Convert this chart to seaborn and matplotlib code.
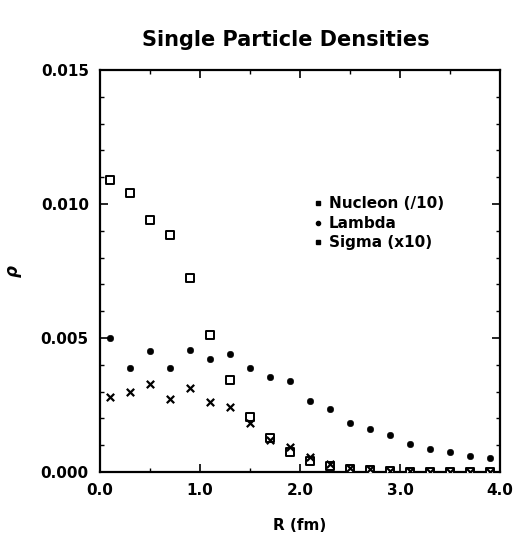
import numpy as np
import pandas as pd
import matplotlib
matplotlib.use("Agg")
import matplotlib.pyplot as plt
import seaborn as sns
from matplotlib.lines import Line2D
from matplotlib.ticker import MultipleLocator, FormatStrFormatter

r = [0.1, 0.3, 0.5, 0.7, 0.9, 1.1, 1.3, 1.5, 1.7, 1.9,
     2.1, 2.3, 2.5, 2.7, 2.9, 3.1, 3.3, 3.5, 3.7, 3.9]
nucleon = [0.0109, 0.0104, 0.0094, 0.00885, 0.00725, 0.00513, 0.00342, 0.00205, 0.00126, 0.00074,
           0.00040, 0.00022, 0.00012, 0.00007, 0.00004, 0.00002, 0.00002, 0.00001, 0.00001, 0.00001]
lam = [0.0050, 0.0039, 0.0045, 0.0039, 0.00455, 0.0042, 0.0044, 0.00387, 0.00355, 0.0034,
       0.00265, 0.00235, 0.00183, 0.0016, 0.00138, 0.00104, 0.00086, 0.00076, 0.0006, 0.00052]
sigma = [0.0028, 0.00297, 0.0033, 0.00272, 0.00312, 0.0026, 0.00242, 0.00182, 0.0012, 0.00095,
         0.00055, 0.0003, 0.00015, 0.0001, 0.00005, 0.00003, 0.00002, 0.00001, 0.00001, 0.00001]
labels = ["Nucleon (/10)", "Lambda", "Sigma (x10)"]

df = pd.DataFrame({"R": r, "nucleon": nucleon, "lambda": lam, "sigma": sigma})

sns.set_style("ticks")
plt.rcParams["font.family"] = ["DejaVu Sans"]
plt.rcParams["font.weight"] = "bold"
plt.rcParams["text.color"] = "black"
plt.rcParams["axes.labelcolor"] = "black"
plt.rcParams["xtick.color"] = "black"
plt.rcParams["ytick.color"] = "black"
plt.rcParams["axes.edgecolor"] = "black"

fig = plt.figure(figsize=(5.15, 5.42), dpi=100)
ax = fig.add_axes([0.194, 0.129, 0.777, 0.742])

sns.scatterplot(data=df, x="R", y="nucleon", ax=ax, marker="s", s=40,
                facecolor="white", edgecolor="black", linewidth=1.4, zorder=3)
sns.scatterplot(data=df, x="R", y="lambda", ax=ax, marker="o", s=22,
                color="black", edgecolor="black", zorder=4)
sns.scatterplot(data=df, x="R", y="sigma", ax=ax, marker="x", s=28,
                color="black", linewidth=1.6, zorder=5)

ax.set_xlim(0, 4.0)
ax.set_ylim(0, 0.015)
ax.xaxis.set_major_locator(MultipleLocator(1.0))
ax.xaxis.set_minor_locator(MultipleLocator(0.5))
ax.yaxis.set_major_locator(MultipleLocator(0.005))
ax.yaxis.set_minor_locator(MultipleLocator(0.001))
ax.xaxis.set_major_formatter(FormatStrFormatter("%.1f"))
ax.yaxis.set_major_formatter(FormatStrFormatter("%.3f"))
ax.tick_params(which="both", direction="in", top=True, right=True, labelsize=11, pad=8)
ax.tick_params(which="major", length=6, width=1.2)
ax.tick_params(which="minor", length=3, width=1.0)
for s in ax.spines.values():
    s.set_linewidth(1.6)
    s.set_visible(True)
for t in ax.get_xticklabels() + ax.get_yticklabels():
    t.set_fontweight("bold")

ax.set_xlabel("R (fm)", fontsize=11, fontweight="bold", labelpad=14)
ax.set_ylabel(r"$\rho$", fontsize=12, labelpad=12)
fig.suptitle("Single Particle Densities", x=0.555, y=0.945, fontsize=15,
             fontweight="bold")

handles = [Line2D([], [], marker="s", color="black", ls="", markersize=3.5),
           Line2D([], [], marker="o", color="black", ls="", markersize=3),
           Line2D([], [], marker="s", color="black", ls="", markersize=3.5)]
ax.legend(handles, labels, loc="upper left", bbox_to_anchor=(0.5, 0.72),
          frameon=False, handlelength=0.6, handletextpad=0.4, labelspacing=0.3,
          prop={"size": 11, "weight": "bold"})

fig.savefig("out.png", dpi=100)
